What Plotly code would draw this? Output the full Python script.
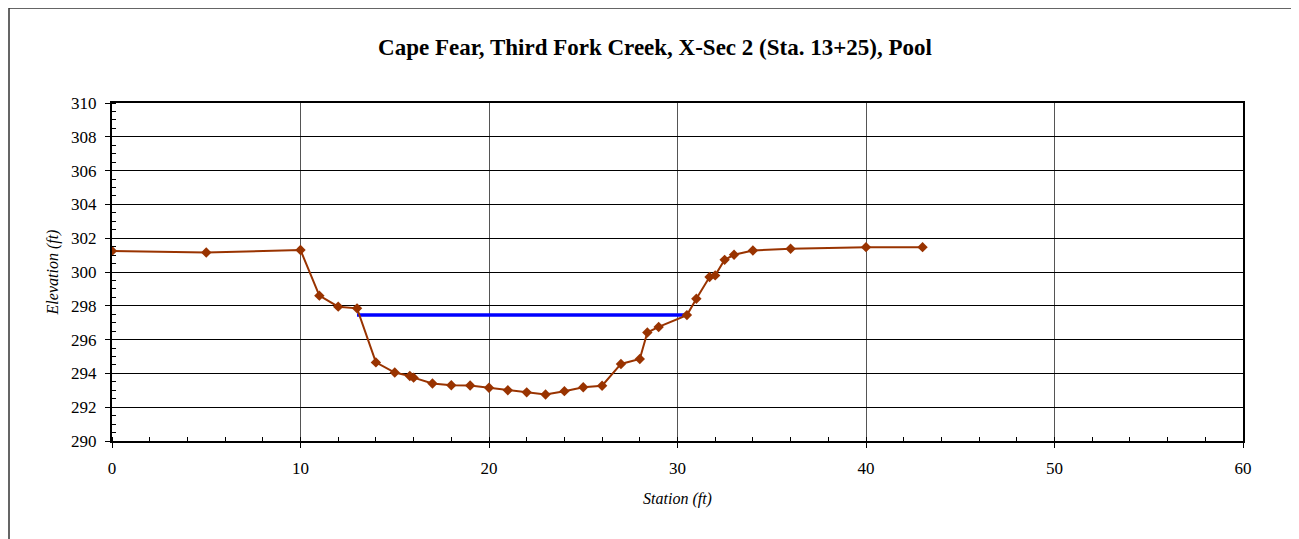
import plotly.graph_objects as go

# surveyed cross-section
station = [0, 5, 10, 11, 12, 13, 14, 15, 15.8, 16, 17, 18, 19, 20, 21, 22, 23, 24, 25, 26,
           27, 28, 28.4, 29, 30.5, 31, 31.7, 32, 32.5, 33, 34, 36, 40, 43]
elevation = [301.25, 301.15, 301.3, 298.6, 297.95, 297.85, 294.65, 294.05, 293.85, 293.75,
             293.4, 293.3, 293.28, 293.15, 293.0, 292.88, 292.75, 292.95, 293.18, 293.27,
             294.56, 294.85, 296.42, 296.75, 297.45, 298.42, 299.7, 299.8, 300.72, 301.02,
             301.27, 301.38, 301.47, 301.47]

# water surface
ws_station = [13, 30.45]
ws_elev = [297.45, 297.45]

serif = "Liberation Serif, Times New Roman, serif"
brown = "#993300"

# page body adds an 8px offset, so the figure is sized a bit smaller
W, H = 1291, 531
L, T = 104, 95
PW, PH = 1131, 338

fig = go.Figure()
fig.add_trace(go.Scatter(x=ws_station, y=ws_elev, mode="lines",
                         line=dict(color="#0000ff", width=3.5), showlegend=False))
fig.add_trace(go.Scatter(x=station, y=elevation, mode="lines+markers",
                         line=dict(color=brown, width=2),
                         marker=dict(symbol="diamond", size=8, color=brown),
                         showlegend=False))

fig.update_layout(
    width=W, height=H,
    margin=dict(l=L, r=W - L - PW, t=T, b=H - T - PH),
    paper_bgcolor="white", plot_bgcolor="white",
    font=dict(family=serif, color="black", size=17),
    title=dict(text="<b>Cape Fear, Third Fork Creek, X-Sec 2 (Sta. 13+25), Pool</b>",
               x=647 / W, xanchor="center", y=1 - 39 / H, yanchor="middle",
               font=dict(family=serif, size=23, color="black")),
    shapes=[dict(type="rect", xref="paper", yref="paper",
                 x0=(1 - L) / PW, x1=1.2, y0=-0.6, y1=1 + (T - 0) / PH,
                 line=dict(color="#333333", width=1.5), layer="below")],
)

fig.update_xaxes(range=[0, 60], dtick=10, showgrid=True, gridcolor="#555555", gridwidth=1,
                 showline=True, linecolor="black", linewidth=2, mirror=True,
                 ticks="outside", ticklen=5, tickcolor="black", zeroline=False,
                 ticklabelstandoff=6,
                 minor=dict(dtick=2, ticks="inside", ticklen=4, tickcolor="black", showgrid=False),
                 title=dict(text="<i>Station (ft)</i>", font=dict(size=16), standoff=15))
fig.update_yaxes(range=[290, 310], dtick=2, showgrid=True, gridcolor="black", gridwidth=1,
                 showline=True, linecolor="black", linewidth=2, mirror=True,
                 ticks="outside", ticklen=5, tickcolor="black", zeroline=False,
                 ticklabelstandoff=5,
                 minor=dict(dtick=0.5, ticks="inside", ticklen=4, tickcolor="black", showgrid=False),
                 title=dict(text="<i>Elevation (ft)</i>", font=dict(size=16), standoff=8))

fig.write_html("out.html")
